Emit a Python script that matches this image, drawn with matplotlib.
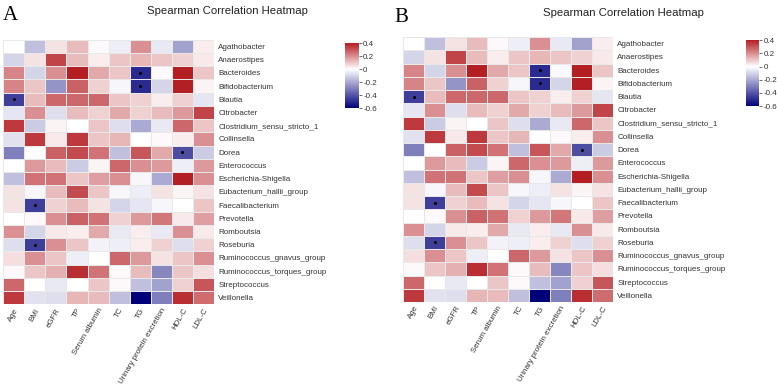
import numpy as np
import matplotlib
matplotlib.use("Agg")
import matplotlib.pyplot as plt
from matplotlib.colors import LinearSegmentedColormap, Normalize

plt.rcParams['font.family'] = ['Liberation Sans', 'DejaVu Sans']

# clinical variables (columns) and genera (rows)
variables = ['Age', 'BMI', 'eGFR', 'TP', 'Serum albumin', 'TC', 'TG',
             'Urinary protein excretion', 'HDL-C', 'LDL-C']
genera = ['Agathobacter', 'Anaerostipes', 'Bacteroides', 'Bifidobacterium',
          'Blautia', 'Citrobacter', 'Clostridium_sensu_stricto_1', 'Collinsella',
          'Dorea', 'Enterococcus', 'Escherichia-Shigella', 'Eubacterium_hallii_group',
          'Faecalibacterium', 'Prevotella', 'Romboutsia', 'Roseburia',
          'Ruminococcus_gnavus_group', 'Ruminococcus_torques_group',
          'Streptococcus', 'Veillonella']

# spearman rho
rho = [
    [0.00, -0.15, 0.05, 0.12, 0.01, -0.04, 0.20, -0.05, -0.22, 0.03],
    [-0.10, 0.05, 0.33, 0.12, 0.03, 0.10, 0.13, 0.10, 0.08, 0.04],
    [0.22, -0.10, 0.20, 0.40, 0.15, 0.10, -0.50, 0.01, 0.40, 0.10],
    [0.22, 0.10, -0.25, 0.28, 0.08, -0.02, -0.50, -0.10, 0.40, 0.02],
    [-0.45, 0.12, 0.27, 0.27, 0.27, 0.10, 0.08, 0.03, 0.08, -0.06],
    [-0.06, 0.20, -0.08, 0.12, 0.08, 0.15, 0.08, 0.12, 0.18, 0.33],
    [0.35, -0.12, 0.02, 0.00, 0.10, -0.08, -0.20, -0.05, 0.27, 0.10],
    [-0.07, 0.35, 0.04, 0.35, 0.10, 0.13, 0.00, 0.01, 0.03, 0.20],
    [-0.30, 0.00, 0.28, 0.32, 0.25, -0.15, 0.30, 0.15, -0.42, -0.12],
    [0.00, 0.18, 0.12, -0.12, 0.02, 0.27, 0.20, 0.18, -0.04, 0.18],
    [-0.15, 0.25, 0.25, 0.10, 0.17, 0.20, -0.02, -0.20, 0.40, 0.20],
    [0.05, -0.02, 0.12, 0.32, 0.10, -0.02, -0.04, 0.05, 0.02, 0.05],
    [0.05, -0.45, 0.08, 0.12, 0.05, -0.10, -0.06, -0.02, 0.00, 0.10],
    [0.00, 0.01, 0.20, 0.28, 0.25, 0.08, 0.18, 0.24, 0.04, 0.17],
    [0.20, -0.10, 0.04, 0.03, 0.15, -0.05, 0.03, -0.05, 0.20, 0.04],
    [-0.08, -0.45, 0.20, 0.10, -0.03, -0.04, 0.03, 0.08, -0.08, 0.08],
    [0.06, 0.20, 0.10, -0.04, 0.00, 0.27, 0.18, 0.05, 0.10, 0.20],
    [0.01, 0.10, 0.14, 0.37, 0.25, 0.01, 0.12, -0.28, 0.10, 0.06],
    [0.27, 0.00, -0.05, 0.00, 0.10, 0.01, -0.15, -0.22, 0.08, 0.30],
    [0.35, -0.07, -0.08, 0.13, 0.12, -0.15, -0.60, -0.30, 0.37, 0.26],
]

# cells marked with * (row, col)
signif = [(2, 6), (3, 6), (4, 0), (8, 8), (12, 1), (15, 1)]

cbar_ticks = [0.4, 0.2, 0, -0.2, -0.4, -0.6]

cmap = LinearSegmentedColormap.from_list(
    'bwr_custom', [(0, '#00007a'), (0.6, '#ffffff'), (1, '#b41f24')])
norm = Normalize(vmin=-0.6, vmax=0.4)

fig = plt.figure(figsize=(7.77, 3.86), dpi=100)


def panel(ax_rect, cax_rect, letter, letter_xy, title_xy):
    ax = fig.add_axes(ax_rect)
    data = np.array(rho)
    mesh = ax.pcolormesh(data, cmap=cmap, norm=norm,
                         edgecolors='#e8e8e8', linewidth=0.5)
    ax.set_xlim(0, len(variables))
    ax.set_ylim(len(genera), 0)
    for r, c in signif:
        ax.plot(c + 0.5, r + 0.5, 'o', color='black', markersize=1.2)
    ax.set_xticks(np.arange(len(variables)) + 0.5)
    ax.set_xticklabels(variables, rotation=60, ha='right', rotation_mode='anchor',
                       fontsize=5.7, color='#333333')
    ax.set_yticks(np.arange(len(genera)) + 0.5)
    ax.set_yticklabels(genera, fontsize=5.8, color='#333333')
    ax.yaxis.tick_right()
    ax.tick_params(length=0, pad=3)
    ax.tick_params(axis='x', pad=2)
    for s in ax.spines.values():
        s.set_visible(False)

    cax = fig.add_axes(cax_rect)
    cb = fig.colorbar(mesh, cax=cax, ticks=cbar_ticks)
    cb.ax.set_yticklabels(['0.4', '0.2', '0', '-0.2', '-0.4', '-0.6'])
    cb.ax.tick_params(labelsize=5.8, length=2, width=0.5, pad=1, colors='#333333')
    cb.outline.set_visible(False)

    fig.text(letter_xy[0], letter_xy[1], letter, fontsize=15,
             family='Liberation Serif', va='top', ha='left')
    fig.text(title_xy[0], title_xy[1], 'Spearman Correlation Heatmap',
             fontsize=8.2, ha='center', va='center', color='#222222')


panel([0.004, 0.212, 0.2716, 0.685], [0.444, 0.720, 0.018, 0.168],
      'A', (0.004, 0.985), (0.293, 0.972))
panel([0.5187, 0.2176, 0.2703, 0.6865], [0.960, 0.725, 0.017, 0.171],
      'B', (0.508, 0.98), (0.803, 0.966))

fig.savefig('out.png', dpi=100)
